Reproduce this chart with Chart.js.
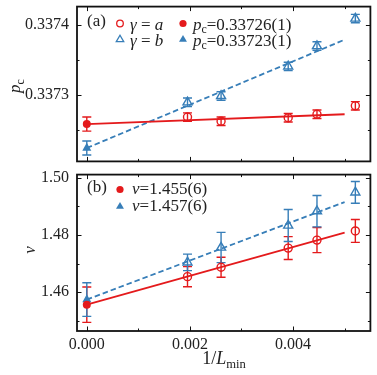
<!DOCTYPE html>
<html>
<head>
<meta charset="utf-8">
<script src="https://cdn.jsdelivr.net/npm/chart.js@4.4.1/dist/chart.umd.min.js"></script>
<style>
  html, body { margin: 0; padding: 0; background: #fff; }
  #wrap { position: relative; width: 377px; height: 375px; }
  #wrap canvas { position: absolute; left: 0; }
</style>
</head>
<body>
<div id="wrap">
  <canvas id="pcCanvas" width="377" height="168" style="top:0px"></canvas>
  <canvas id="nuCanvas" width="377" height="207" style="top:168px"></canvas>
</div>
<script>
// datos
var invL = [0.001953, 0.002604, 0.003906, 0.004464, 0.005208];
var xFit = [0, 0.005];
var xExtrap = [0];

var pcA = [0.337269, 0.337263, 0.337268, 0.337273, 0.337285];
var pcAErr = [0.000006, 0.000006, 0.000006, 0.000006, 0.000006];
var pcB = [0.337290, 0.337299, 0.337341, 0.337370, 0.337409];
var pcBErr = [0.000006, 0.000006, 0.000006, 0.000006, 0.000006];
var pcA0 = [0.337259], pcA0Err = [0.00001];
var pcB0 = [0.337225], pcB0Err = [0.00001];
var pcAFit = [0.337259, 0.337273];
var pcBFit = [0.337225, 0.337379];

var nuA = [1.4654, 1.4687, 1.4754, 1.4782, 1.4814];
var nuAErr = [0.0035, 0.0035, 0.0040, 0.0044, 0.0040];
var nuB = [1.4704, 1.4756, 1.4833, 1.4883, 1.4949];
var nuBErr = [0.0029, 0.0053, 0.0056, 0.0055, 0.0038];
var nuA0 = [1.4556], nuA0Err = [0.0062];
var nuB0 = [1.4574], nuB0Err = [0.0059];
var nuAFit = [1.4556, 1.4808];
var nuBFit = [1.4574, 1.4915];

var xTicks = [0, 0.002, 0.004];
var xMinor = [0.001, 0.003, 0.005];
var pcTicks = [0.3373, 0.3374];
var pcMinor = [0.33725, 0.33735];
var nuTicks = [1.46, 1.48, 1.50];
var nuMinor = [1.45, 1.47, 1.49];

var rojo = '#e41a1c';
var azul = '#377eb8';
var fuente = '"Liberation Serif", serif';

function puntos(xs, ys) {
    return xs.map(function (x, i) { return { x: x, y: ys[i] }; });
}

// texto con partes en cursiva y subindices
function textoRico(ctx, partes, x, y, size, centrado) {
    function fontDe(k) {
        if (k === 'sub') return (size * 0.7) + 'px ' + fuente;
        return (k === 'it' ? 'italic ' : '') + size + 'px ' + fuente;
    }
    var ancho = 0;
    partes.forEach(function (p) { ctx.font = fontDe(p[1]); ancho += ctx.measureText(p[0]).width; });
    var cx = centrado ? x - ancho / 2 : x;
    partes.forEach(function (p) {
        ctx.font = fontDe(p[1]);
        ctx.fillText(p[0], cx, y + (p[1] === 'sub' ? size * 0.22 : 0));
        cx += ctx.measureText(p[0]).width;
    });
}

function marcador(ctx, tipo, x, y, r, color, relleno) {
    ctx.beginPath();
    if (tipo === 'circle') {
        ctx.arc(x, y, r, 0, Math.PI * 2);
    } else {
        ctx.moveTo(x, y - r);
        ctx.lineTo(x + r * 0.866, y + r * 0.5);
        ctx.lineTo(x - r * 0.866, y + r * 0.5);
    }
    ctx.closePath();
    if (relleno) {
        ctx.fillStyle = color;
        ctx.fill();
    } else {
        ctx.strokeStyle = color;
        ctx.lineWidth = 1.3;
        ctx.stroke();
    }
}

// barras de error por debajo de los marcadores
var barrasError = {
    id: 'barrasError',
    beforeDatasetsDraw: function (chart) {
        var ctx = chart.ctx, xs = chart.scales.x, ys = chart.scales.y;
        chart.data.datasets.forEach(function (ds) {
            if (!ds.errores) return;
            ctx.save();
            ctx.strokeStyle = ds.borderColor;
            ctx.lineWidth = 1.4;
            ds.data.forEach(function (p, i) {
                var px = xs.getPixelForValue(p.x);
                var y1 = ys.getPixelForValue(p.y - ds.errores[i]);
                var y2 = ys.getPixelForValue(p.y + ds.errores[i]);
                ctx.beginPath();
                ctx.moveTo(px, y1); ctx.lineTo(px, y2);
                ctx.moveTo(px - 4.5, y1); ctx.lineTo(px + 4.5, y1);
                ctx.moveTo(px - 4.5, y2); ctx.lineTo(px + 4.5, y2);
                ctx.stroke();
            });
            ctx.restore();
        });
    }
};

// marco y ticks hacia adentro en los cuatro lados
var marcoEjes = {
    id: 'marcoEjes',
    afterDraw: function (chart, args, opts) {
        var ctx = chart.ctx, a = chart.chartArea, xs = chart.scales.x, ys = chart.scales.y;
        ctx.save();
        ctx.strokeStyle = '#111';
        ctx.lineWidth = 1;
        function tx(v, len) {
            var px = Math.round(xs.getPixelForValue(v)) + 0.5;
            ctx.beginPath();
            ctx.moveTo(px, a.bottom); ctx.lineTo(px, a.bottom - len);
            ctx.moveTo(px, a.top); ctx.lineTo(px, a.top + len);
            ctx.stroke();
        }
        function ty(v, len) {
            var py = Math.round(ys.getPixelForValue(v)) + 0.5;
            ctx.beginPath();
            ctx.moveTo(a.left, py); ctx.lineTo(a.left + len, py);
            ctx.moveTo(a.right, py); ctx.lineTo(a.right - len, py);
            ctx.stroke();
        }
        xTicks.forEach(function (v) { tx(v, 4.5); });
        xMinor.forEach(function (v) { tx(v, 2.5); });
        opts.yMayor.forEach(function (v) { ty(v, 4.5); });
        opts.yMenor.forEach(function (v) { ty(v, 2.5); });
        ctx.lineWidth = 1.8;
        ctx.strokeRect(a.left, a.top, a.right - a.left, a.bottom - a.top);
        ctx.restore();
    }
};

// titulos de ejes y leyenda
var textos = {
    id: 'textos',
    afterDraw: function (chart, args, opts) {
        var ctx = chart.ctx;
        ctx.save();
        ctx.fillStyle = '#222';
        ctx.textBaseline = 'alphabetic';
        opts.titulos.forEach(function (t) {
            ctx.save();
            ctx.translate(t.x, t.y);
            if (t.rot) ctx.rotate(-Math.PI / 2);
            textoRico(ctx, t.partes, 0, 0, t.size, true);
            ctx.restore();
        });
        opts.leyenda.forEach(function (e) {
            if (e.marca) marcador(ctx, e.marca, e.mx, e.my, e.r, e.color, e.relleno);
            ctx.fillStyle = '#222';
            textoRico(ctx, e.partes, e.x, e.y, 17, false);
        });
        ctx.restore();
    }
};

function sinRelleno(s) {
    s.paddingTop = 0; s.paddingBottom = 0; s.paddingLeft = 0; s.paddingRight = 0;
}

function escalas(yMin, yMax, yTicks, decimales, conX, altoX) {
    var letra = { family: fuente, size: 16 };
    return {
        x: {
            type: 'linear', min: -0.00019, max: 0.0055,
            afterBuildTicks: function (s) { s.ticks = xTicks.map(function (v) { return { value: v }; }); },
            afterFit: function (s) { s.height = altoX; sinRelleno(s); },
            ticks: { display: conX, font: letra, color: '#222', padding: 4, maxRotation: 0, autoSkip: false,
                     callback: function (v) { return v.toFixed(3); } },
            grid: { display: false, drawTicks: false },
            border: { display: false }
        },
        y: {
            type: 'linear', min: yMin, max: yMax,
            afterBuildTicks: function (s) { s.ticks = yTicks.map(function (v) { return { value: v }; }); },
            afterFit: function (s) { s.width = 77; sinRelleno(s); },
            ticks: { font: letra, color: '#222', padding: 8, autoSkip: false,
                     callback: function (v) { return v.toFixed(decimales); } },
            grid: { display: false, drawTicks: false },
            border: { display: false }
        }
    };
}

function serieAjuste(ys, color, guiones) {
    return { type: 'scatter', data: puntos(xFit, ys), showLine: true, borderColor: color, borderWidth: 1.8,
             borderDash: guiones ? [5.5, 3] : [], pointRadius: 0, fill: false };
}

function seriePuntos(xs, ys, errs, color, estilo, relleno) {
    return { type: 'scatter', data: puntos(xs, ys), errores: errs, borderColor: color,
             backgroundColor: relleno ? color : 'rgba(0,0,0,0)', pointBorderColor: color,
             pointBackgroundColor: relleno ? color : 'rgba(0,0,0,0)', pointStyle: estilo,
             pointRadius: estilo === 'circle' ? 4 : 5.2, pointBorderWidth: relleno ? 0 : 1.4 };
}

function opcionesBase(escala, extra) {
    return {
        responsive: false, animation: false, devicePixelRatio: 1, events: [],
        layout: { padding: extra.padding },
        scales: escala,
        plugins: {
            legend: { display: false }, tooltip: { enabled: false },
            marcoEjes: { yMayor: extra.yMayor, yMenor: extra.yMenor },
            textos: { titulos: extra.titulos, leyenda: extra.leyenda }
        }
    };
}

new Chart(document.getElementById('pcCanvas').getContext('2d'), {
    type: 'scatter',
    data: {
        datasets: [
            serieAjuste(pcAFit, rojo, false),
            serieAjuste(pcBFit, azul, true),
            seriePuntos(invL, pcA, pcAErr, rojo, 'circle', false),
            seriePuntos(invL, pcB, pcBErr, azul, 'triangle', false),
            seriePuntos(xExtrap, pcA0, pcA0Err, rojo, 'circle', true),
            seriePuntos(xExtrap, pcB0, pcB0Err, azul, 'triangle', true)
        ]
    },
    options: opcionesBase(escalas(0.337206, 0.337426, pcTicks, 4, false, 0), {
        padding: { left: 0, top: 5, right: 6, bottom: 4 },
        yMayor: pcTicks, yMenor: pcMinor,
        titulos: [
            { x: 20, y: 86, rot: true, size: 17, partes: [['p', 'it'], ['c', 'sub']] }
        ],
        leyenda: [
            { x: 87, y: 25.5, partes: [['(a)', 'rm']] },
            { marca: 'circle', mx: 120, my: 23.5, r: 3.3, color: rojo, relleno: false,
              x: 130, y: 29.5, partes: [['\u03b3', 'it'], [' = ', 'rm'], ['a', 'it']] },
            { marca: 'circle', mx: 183, my: 23.5, r: 3.6, color: rojo, relleno: true,
              x: 193, y: 29.5, partes: [['p', 'it'], ['c', 'sub'], ['=0.33726(1)', 'rm']] },
            { marca: 'triangle', mx: 120, my: 39.5, r: 4.3, color: azul, relleno: false,
              x: 130, y: 45.5, partes: [['\u03b3', 'it'], [' = ', 'rm'], ['b', 'it']] },
            { marca: 'triangle', mx: 183, my: 39.5, r: 4.6, color: azul, relleno: true,
              x: 193, y: 45.5, partes: [['p', 'it'], ['c', 'sub'], ['=0.33723(1)', 'rm']] }
        ]
    }),
    plugins: [barrasError, marcoEjes, textos]
});

new Chart(document.getElementById('nuCanvas').getContext('2d'), {
    type: 'scatter',
    data: {
        datasets: [
            serieAjuste(nuAFit, rojo, false),
            serieAjuste(nuBFit, azul, true),
            seriePuntos(invL, nuA, nuAErr, rojo, 'circle', false),
            seriePuntos(invL, nuB, nuBErr, azul, 'triangle', false),
            seriePuntos(xExtrap, nuA0, nuA0Err, rojo, 'circle', true),
            seriePuntos(xExtrap, nuB0, nuB0Err, azul, 'triangle', true)
        ]
    },
    options: opcionesBase(escalas(1.4464, 1.5011, nuTicks, 2, true, 44), {
        padding: { left: 0, top: 5, right: 6, bottom: 0 },
        yMayor: nuTicks, yMenor: nuMinor,
        titulos: [
            { x: 35, y: 82, rot: true, size: 17, partes: [['\u03bd', 'it']] },
            { x: 224, y: 196, rot: false, size: 18, partes: [['1/', 'rm'], ['L', 'it'], ['min', 'sub']] }
        ],
        leyenda: [
            { x: 87, y: 24, partes: [['(b)', 'rm']] },
            { marca: 'circle', mx: 120, my: 21.5, r: 3.6, color: rojo, relleno: true,
              x: 132, y: 26, partes: [['\u03bd', 'it'], ['=1.455(6)', 'rm']] },
            { marca: 'triangle', mx: 120, my: 38.5, r: 4.6, color: azul, relleno: true,
              x: 132, y: 42.5, partes: [['\u03bd', 'it'], ['=1.457(6)', 'rm']] }
        ]
    }),
    plugins: [barrasError, marcoEjes, textos]
});
</script>
</body>
</html>
